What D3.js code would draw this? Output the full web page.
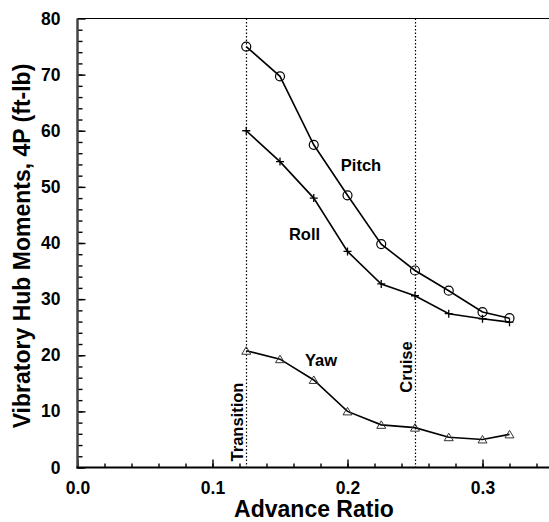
<!DOCTYPE html>
<html>
<head>
<meta charset="utf-8">
<script src="https://cdnjs.cloudflare.com/ajax/libs/d3/7.8.5/d3.min.js"></script>
<style>
  body { margin: 0; background: #fff; }
  svg { display: block; font-family: "Liberation Sans", Arial, sans-serif; font-weight: bold; }
</style>
</head>
<body>
<svg width="549" height="522"></svg>
<script>
// advance ratio at each test point
var advance = [0.125, 0.15, 0.175, 0.2, 0.225, 0.25, 0.275, 0.3, 0.32];

// 4P vibratory hub moments, ft-lb
var pitch = [75, 69.7, 57.5, 48.5, 39.8, 35.1, 31.5, 27.7, 26.6];
var roll  = [60, 54.5, 48, 38.5, 32.7, 30.6, 27.4, 26.5, 25.9];
var yaw   = [20.8, 19.3, 15.6, 10, 7.6, 7.1, 5.4, 5.0, 5.9];

var xTicks = [0, 0.1, 0.2, 0.3];
var yTicks = [0, 10, 20, 30, 40, 50, 60, 70, 80];
var markers = [
    {name: "Transition", x: 0.125},
    {name: "Cruise", x: 0.25}
];

var svg = d3.select("svg");
// note: "top" is taken by window.top, so use plot* names
var plotL = 77.5, plotT = 18.5, plotR = 550, plotB = 467.5;

var x = d3.scaleLinear().domain([0, 0.35]).range([plotL, plotR]);
var y = d3.scaleLinear().domain([0, 80]).range([plotB, plotT]);

// minor ticks every 0.02 / 2 units, drawn inward
var xMinor = d3.range(0, 0.35, 0.02);
var yMinor = d3.range(0, 80, 2);

function styleLabels(g) {
    g.select(".domain").remove();
    g.selectAll("text").attr("font-size", 17.5).attr("font-weight", "bold")
        .attr("font-family", "Liberation Sans, Arial, sans-serif").attr("fill", "#000");
}

svg.append("g")
    .attr("transform", "translate(0," + plotB + ")")
    .call(d3.axisBottom(x).tickValues(xMinor).tickSize(-4).tickFormat(""))
    .call(function(g) { g.select(".domain").remove(); });
svg.append("g")
    .attr("transform", "translate(0," + plotB + ")")
    .call(d3.axisBottom(x).tickValues(xTicks).tickSize(-8).tickPadding(14)
        .tickFormat(d3.format(".1f")))
    .call(styleLabels);

svg.append("g")
    .attr("transform", "translate(" + plotL + ",0)")
    .call(d3.axisLeft(y).tickValues(yMinor).tickSize(-5).tickFormat(""))
    .call(function(g) { g.select(".domain").remove(); });
svg.append("g")
    .attr("transform", "translate(" + plotL + ",0)")
    .call(d3.axisLeft(y).tickValues(yTicks).tickSize(-8).tickPadding(17))
    .call(styleLabels);

svg.selectAll(".tick line").attr("stroke", "#000").attr("stroke-width", 1.4);

// frame: heavy left + bottom, thin top
svg.append("line").attr("x1", plotL).attr("x2", plotL).attr("y1", plotT).attr("y2", plotB + 1)
    .attr("stroke", "#444").attr("stroke-width", 2.5);
svg.append("line").attr("x1", plotL - 1).attr("x2", plotR).attr("y1", plotB).attr("y2", plotB)
    .attr("stroke", "#000").attr("stroke-width", 2);
svg.append("line").attr("x1", plotL).attr("x2", plotR).attr("y1", plotT).attr("y2", plotT)
    .attr("stroke", "#000").attr("stroke-width", 1.2);

// dotted reference lines
svg.selectAll(".ref")
    .data(markers)
    .enter().append("line")
        .attr("class", "ref")
        .attr("x1", function(d) { return Math.round(x(d.x)) + 0.5; })
        .attr("x2", function(d) { return Math.round(x(d.x)) + 0.5; })
        .attr("y1", plotT)
        .attr("y2", plotB)
        .attr("stroke", "#000")
        .attr("stroke-width", 1.2)
        .attr("stroke-dasharray", "1.5,2");

svg.selectAll(".refLabel")
    .data(markers)
    .enter().append("text")
        .attr("class", "refLabel")
        .attr("transform", function(d) {
            var cy = d.name == "Transition" ? 422 : 367;
            return "translate(" + (x(d.x) - 3.5) + "," + cy + ") rotate(-90)";
        })
        .attr("text-anchor", "middle")
        .attr("font-size", 16.5)
        .text(function(d) { return d.name; });

var line = d3.line()
    .x(function(d) { return x(d[0]); })
    .y(function(d) { return y(d[1]); });

function drawSeries(vals, shape) {
    var pts = advance.map(function(a, i) { return [a, vals[i]]; });
    svg.append("path")
        .datum(pts)
        .attr("fill", "none")
        .attr("stroke", "#000")
        .attr("stroke-width", 1.6)
        .attr("d", line);

    var g = svg.append("g");
    pts.forEach(function(p) {
        var px = x(p[0]), py = y(p[1]);
        if (shape == "circle") {
            g.append("circle").attr("cx", px).attr("cy", py).attr("r", 4.5)
                .attr("fill", "none").attr("stroke", "#000").attr("stroke-width", 1.2);
        } else if (shape == "plus") {
            g.append("path")
                .attr("d", "M" + (px - 4) + "," + py + "H" + (px + 4) + "M" + px + "," + (py - 4) + "V" + (py + 4))
                .attr("stroke", "#000").attr("stroke-width", 1.3);
        } else {
            g.append("path")
                .attr("d", "M" + px + "," + (py - 4) + "L" + (px + 4.5) + "," + (py + 3.5) + "L" + (px - 4.5) + "," + (py + 3.5) + "Z")
                .attr("fill", "none").attr("stroke", "#333").attr("stroke-width", 1);
        }
    });
}

drawSeries(pitch, "circle");
drawSeries(roll, "plus");
drawSeries(yaw, "triangle");

// series labels
svg.append("text").attr("x", 361).attr("y", 171).attr("text-anchor", "middle")
    .attr("font-size", 16.5).text("Pitch");
svg.append("text").attr("x", 304.5).attr("y", 240).attr("text-anchor", "middle")
    .attr("font-size", 16.5).text("Roll");
svg.append("text").attr("x", 321).attr("y", 366).attr("text-anchor", "middle")
    .attr("font-size", 16.5).text("Yaw");

// axis titles
svg.append("text")
    .attr("x", 314).attr("y", 517)
    .attr("text-anchor", "middle")
    .attr("font-size", 23)
    .text("Advance Ratio");

svg.append("text")
    .attr("transform", "translate(30,246) rotate(-90)")
    .attr("text-anchor", "middle")
    .attr("font-size", 23)
    .text("Vibratory Hub Moments, 4P (ft-lb)");
</script>
</body>
</html>
